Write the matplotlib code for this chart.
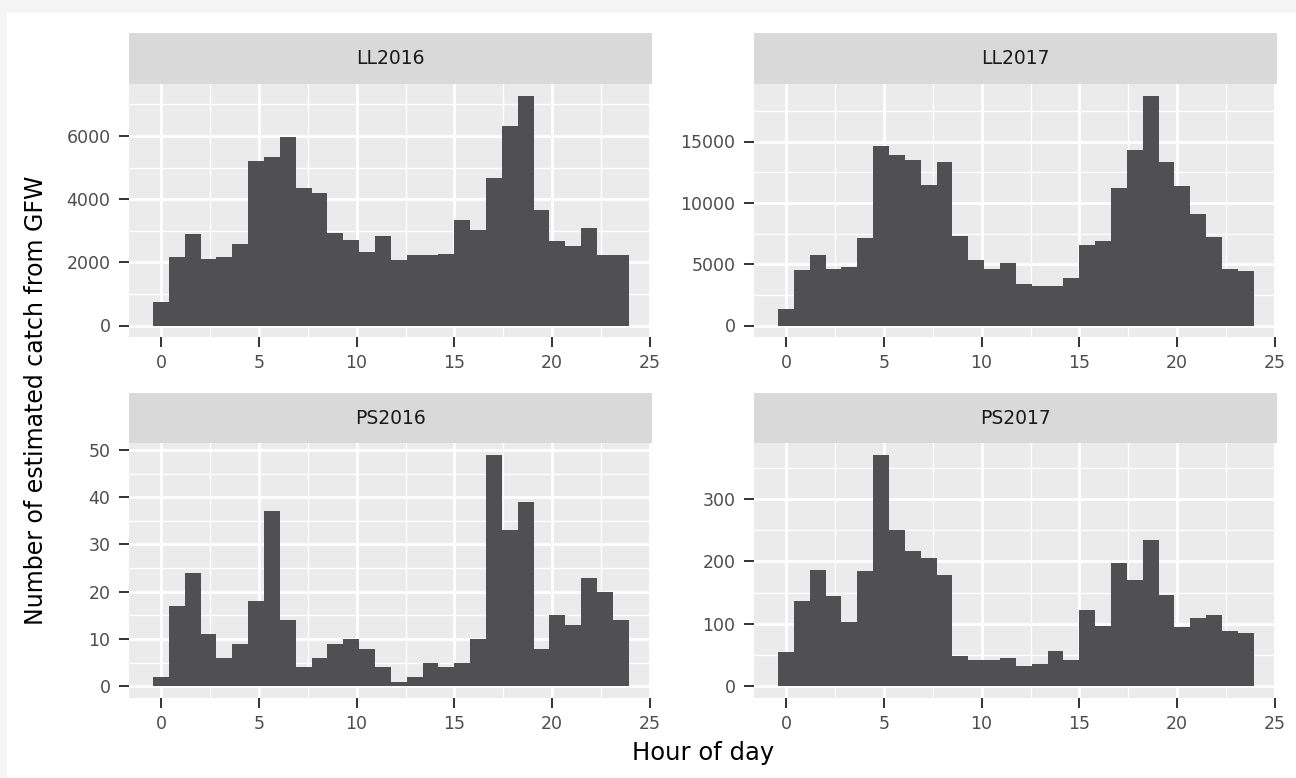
import numpy as np
import matplotlib
matplotlib.use("Agg")
import matplotlib.pyplot as plt
from matplotlib.patches import Rectangle
from matplotlib.ticker import MultipleLocator, FixedLocator

# Hourly catch counts per fleet/year (30 bins over the day)
panels = ["LL2016", "LL2017", "PS2016", "PS2017"]

ll2016 = [740, 2160, 2890, 2100, 2180, 2580, 5200, 5330, 5980, 4350,
          4180, 2920, 2710, 2320, 2840, 2060, 2220, 2220, 2250, 3340,
          3030, 4660, 6300, 7280, 3650, 2660, 2530, 3080, 2240, 2240]
ll2017 = [1350, 4550, 5750, 4610, 4770, 7130, 14630, 13930, 13520, 11490,
          13300, 7320, 5340, 4630, 5090, 3360, 3250, 3250, 3850, 6530,
          6880, 11250, 14340, 18750, 13360, 11410, 9080, 7210, 4610, 4420]
ps2016 = [2, 17, 24, 11, 6, 9, 18, 37, 14, 4,
          6, 9, 10, 8, 4, 1, 2, 5, 4, 5,
          10, 49, 33, 39, 8, 15, 13, 23, 20, 14]
ps2017 = [55, 136, 187, 144, 103, 185, 371, 250, 216, 205,
          178, 48, 42, 42, 46, 32, 36, 56, 43, 122,
          96, 198, 171, 235, 147, 95, 110, 114, 89, 86]

counts = [ll2016, ll2017, ps2016, ps2017]
y_major = [2000, 5000, 10, 100]

x_ticks = [0, 5, 10, 15, 20, 25]
x_label = "Hour of day"
y_label = "Number of estimated catch from GFW"

# bin layout: 30 bins centred on 0 ... 23.5
n_bins = 30
bw = 23.5 / (n_bins - 1)
edges = np.linspace(-bw / 2, 23.5 + bw / 2, n_bins + 1)

W, H = 1296, 778
fig = plt.figure(figsize=(W / 100, H / 100), dpi=100)
fig.patch.set_facecolor("white")

# light outer frame on top and left
fig.add_artist(Rectangle((0, 1 - 13 / H), 1, 13 / H, transform=fig.transFigure,
                         facecolor="#f5f5f5", edgecolor="none", zorder=-10))
fig.add_artist(Rectangle((0, 0), 7 / W, 1, transform=fig.transFigure,
                         facecolor="#f5f5f5", edgecolor="none", zorder=-10))


def px_box(x0, y0, x1, y1):
    return [x0 / W, 1 - y1 / H, (x1 - x0) / W, (y1 - y0) / H]


cols = [(129.3, 652.4), (754.3, 1277.4)]
rows = [(33, 84, 337), (393, 443, 698)]

BAR = "#505053"
TICK_COLOR = "#333333"
LABEL_COLOR = "#4d4d4d"

for i, (name, vals) in enumerate(zip(panels, counts)):
    r, c = divmod(i, 2)
    x0, x1 = cols[c]
    s0, p0, p1 = rows[r]

    # strip
    sax = fig.add_axes(px_box(x0, s0, x1, p0))
    sax.set_facecolor("#d9d9d9")
    sax.set_xticks([])
    sax.set_yticks([])
    for sp in sax.spines.values():
        sp.set_visible(False)
    sax.text(0.5, 0.5, name, ha="center", va="center", fontsize=13.5,
             color="#1a1a1a", transform=sax.transAxes)

    ax = fig.add_axes(px_box(x0, p0, x1, p1))
    ax.set_facecolor("#ebebeb")
    ax.bar(edges[:-1], vals, width=np.diff(edges), align="edge",
           color=BAR, linewidth=0, zorder=2)

    span = edges[-1] - edges[0]
    ax.set_xlim(edges[0] - 0.05 * span, edges[-1] + 0.05 * span)
    ymax = max(vals)
    ax.set_ylim(-0.05 * ymax, 1.05 * ymax)

    ax.xaxis.set_major_locator(FixedLocator(x_ticks))
    ax.xaxis.set_minor_locator(MultipleLocator(2.5))
    ax.yaxis.set_major_locator(MultipleLocator(y_major[i]))
    ax.yaxis.set_minor_locator(MultipleLocator(y_major[i] / 2))

    ax.set_axisbelow(True)
    ax.grid(which="major", color="white", linewidth=2.0, zorder=0)
    ax.grid(which="minor", color="white", linewidth=1.0, zorder=0)
    for sp in ax.spines.values():
        sp.set_visible(False)

    ax.tick_params(which="major", length=7, width=1.4, color=TICK_COLOR,
                   labelcolor=LABEL_COLOR, labelsize=12.5)
    ax.tick_params(axis="x", which="major", pad=5.5)
    ax.tick_params(axis="y", which="major", pad=6.5)
    ax.tick_params(which="minor", length=0)

fig.text(703 / W, 1 - 753 / H, x_label, ha="center", va="center",
         fontsize=17.5, color="black")
fig.text(36 / W, 1 - 400 / H, y_label, ha="center", va="center",
         rotation=90, fontsize=17, color="black")

fig.savefig("out.png", dpi=100, facecolor=fig.get_facecolor())
